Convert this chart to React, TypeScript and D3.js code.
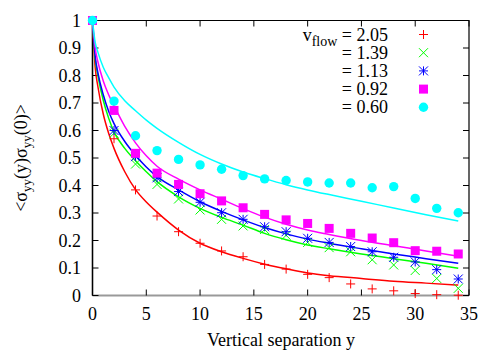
import React from "react";
import * as d3 from "d3";

// measured points (vertical separation y = 0, 2, ..., 34)
const SEPARATION = [0, 2, 4, 6, 8, 10, 12, 14, 16, 18, 20, 22, 24, 26, 28, 30, 32, 34];
const PTS_205 = [1, 0.57, 0.384, 0.289, 0.232, 0.19, 0.162, 0.141, 0.113, 0.096, 0.077, 0.065, 0.042, 0.024, 0.017, 0.007, 0.003, 0.001];
const PTS_139 = [1, 0.59, 0.478, 0.404, 0.351, 0.311, 0.277, 0.253, 0.24, 0.219, 0.193, 0.174, 0.159, 0.13, 0.111, 0.091, 0.062, 0.026];
const PTS_113 = [1, 0.6, 0.505, 0.428, 0.378, 0.339, 0.301, 0.277, 0.25, 0.232, 0.208, 0.193, 0.178, 0.159, 0.139, 0.122, 0.094, 0.06];
const PTS_092 = [1, 0.673, 0.517, 0.445, 0.404, 0.37, 0.344, 0.319, 0.295, 0.275, 0.262, 0.244, 0.226, 0.209, 0.192, 0.163, 0.161, 0.151];
const PTS_060 = [1, 0.707, 0.581, 0.527, 0.495, 0.475, 0.459, 0.436, 0.424, 0.418, 0.413, 0.409, 0.409, 0.392, 0.396, 0.353, 0.317, 0.301];

// fitted curves
const FIT_X = [0, 0.25, 0.5, 1, 1.5, 2, 3, 4, 5, 6, 8, 10, 12, 14, 16, 18, 20, 22, 25, 28, 31, 34];
const FIT_205 = [1, 0.83, 0.76, 0.66, 0.59, 0.535, 0.45, 0.385, 0.34, 0.303, 0.238, 0.19, 0.159, 0.135, 0.114, 0.097, 0.082, 0.072, 0.062, 0.052, 0.045, 0.038];
const FIT_139 = [1, 0.86, 0.8, 0.71, 0.645, 0.595, 0.535, 0.49, 0.45, 0.414, 0.359, 0.317, 0.284, 0.256, 0.226, 0.203, 0.184, 0.17, 0.151, 0.134, 0.117, 0.099];
const FIT_113 = [1, 0.87, 0.81, 0.73, 0.67, 0.625, 0.56, 0.51, 0.467, 0.432, 0.384, 0.341, 0.306, 0.275, 0.247, 0.224, 0.205, 0.19, 0.17, 0.151, 0.134, 0.117];
const FIT_092 = [1, 0.9, 0.85, 0.78, 0.73, 0.69, 0.615, 0.555, 0.508, 0.47, 0.423, 0.384, 0.35, 0.316, 0.285, 0.259, 0.238, 0.222, 0.2, 0.181, 0.162, 0.143];
const FIT_060 = [1, 0.92, 0.885, 0.83, 0.792, 0.758, 0.708, 0.672, 0.638, 0.608, 0.557, 0.513, 0.478, 0.449, 0.425, 0.403, 0.384, 0.367, 0.343, 0.318, 0.294, 0.271];

const FLOW_LABELS = ["2.05", "1.39", "1.13", "0.92", "0.60"];
const X_TICKS = [0, 5, 10, 15, 20, 25, 30, 35];
const Y_TICKS = [0, 0.1, 0.2, 0.3, 0.4, 0.5, 0.6, 0.7, 0.8, 0.9, 1];

const SERIES = [
  { pts: PTS_205, fit: FIT_205, color: "#ff0000", mark: "plus" },
  { pts: PTS_139, fit: FIT_139, color: "#00ff00", mark: "cross" },
  { pts: PTS_113, fit: FIT_113, color: "#0000ff", mark: "star" },
  { pts: PTS_092, fit: FIT_092, color: "#ff00ff", mark: "square" },
  { pts: PTS_060, fit: FIT_060, color: "#00ffff", mark: "circle" },
];

const FONT = "Liberation Serif, DejaVu Serif, serif";
const FS = 18;
const SUB = 13;

function Marker({ type, x, y, color }: { type: string; x: number; y: number; color: string }) {
  const r = 4.5;
  if (type === "plus")
    return <path d={`M${x - r},${y}H${x + r}M${x},${y - r}V${y + r}`} stroke={color} strokeWidth={1} fill="none" />;
  if (type === "cross")
    return <path d={`M${x - r},${y - r}L${x + r},${y + r}M${x - r},${y + r}L${x + r},${y - r}`} stroke={color} strokeWidth={1} fill="none" />;
  if (type === "star")
    return (
      <path
        d={`M${x - r},${y}H${x + r}M${x},${y - r}V${y + r}M${x - r},${y - r}L${x + r},${y + r}M${x - r},${y + r}L${x + r},${y - r}`}
        stroke={color}
        strokeWidth={1}
        fill="none"
      />
    );
  if (type === "square") return <rect x={x - 4.5} y={y - 4.5} width={9} height={9} fill={color} />;
  return <circle cx={x} cy={y} r={4.7} fill={color} />;
}

export default function App() {
  const left = 92.5, right = 469, top = 20.5, bottom = 295.5;
  const x = d3.scaleLinear().domain([0, 35]).range([left, right]);
  const y = d3.scaleLinear().domain([0, 1]).range([bottom, top]);
  const tick = 6;

  const line = d3
    .line<number>()
    .x((_, i) => x(FIT_X[i]))
    .y((d) => y(d))
    .curve(d3.curveMonotoneX);

  return (
    <svg width={500} height={350} style={{ position: "absolute", left: 0, top: 0, background: "#fff", fontFamily: FONT }}>
      {/* zero axes in grey */}
      <line x1={left} x2={right} y1={y(0)} y2={y(0)} stroke="#999" strokeWidth={2} />
      <line x1={x(0)} x2={x(0)} y1={top} y2={bottom} stroke="#999" strokeWidth={2} />
      {/* border */}
      <path d={`M${left},${bottom}V${top}H${right}V${bottom}`} fill="none" stroke="#000" strokeWidth={1.2} />

      {/* ticks */}
      {X_TICKS.map((t) => (
        <g key={"x" + t}>
          <line x1={x(t)} x2={x(t)} y1={bottom} y2={bottom - tick} stroke="#000" />
          <line x1={x(t)} x2={x(t)} y1={top} y2={top + tick} stroke="#000" />
          <text x={x(t)} y={320} textAnchor="middle" fontSize={FS}>
            {t}
          </text>
        </g>
      ))}
      {Y_TICKS.map((t) => (
        <g key={"y" + t}>
          <line x1={left} x2={left + tick} y1={y(t)} y2={y(t)} stroke="#000" />
          <line x1={right} x2={right - tick} y1={y(t)} y2={y(t)} stroke="#000" />
          <text x={81} y={y(t) + 6} textAnchor="end" fontSize={FS}>
            {t}
          </text>
        </g>
      ))}

      {/* fits */}
      {SERIES.map((s, i) => (
        <path key={"f" + i} d={line(s.fit) || ""} fill="none" stroke={s.color} strokeWidth={1.5} />
      ))}

      {/* data */}
      {SERIES.map((s, i) => (
        <g key={"p" + i}>
          {s.pts.map((v, j) => (
            <Marker key={j} type={s.mark} x={x(SEPARATION[j])} y={y(v)} color={s.color} />
          ))}
        </g>
      ))}

      {/* legend */}
      {FLOW_LABELS.map((l, i) => {
        const ly = 34.5 + i * 18.2;
        return (
          <g key={"l" + i}>
            <text x={388} y={ly + 6} textAnchor="end" fontSize={FS}>
              {i === 0 ? (
                <>
                  <tspan>v</tspan>
                  <tspan fontSize={14} dy={5}>flow</tspan>
                  <tspan dy={-5}> = {l}</tspan>
                </>
              ) : (
                `= ${l}`
              )}
            </text>
            <Marker type={SERIES[i].mark} x={423.5} y={ly} color={SERIES[i].color} />
          </g>
        );
      })}

      {/* axis titles */}
      <text x={281} y={346} textAnchor="middle" fontSize={FS}>
        Vertical separation y
      </text>
      <text transform={`translate(27,${(top + bottom) / 2}) rotate(-90)`} textAnchor="middle" fontSize={FS}>
        <tspan>{"<σ"}</tspan>
        <tspan fontSize={SUB} dy={4}>yy</tspan>
        <tspan dy={-4}>{"(y)σ"}</tspan>
        <tspan fontSize={SUB} dy={4}>yy</tspan>
        <tspan dy={-4}>{"(0)>"}</tspan>
      </text>
    </svg>
  );
}
